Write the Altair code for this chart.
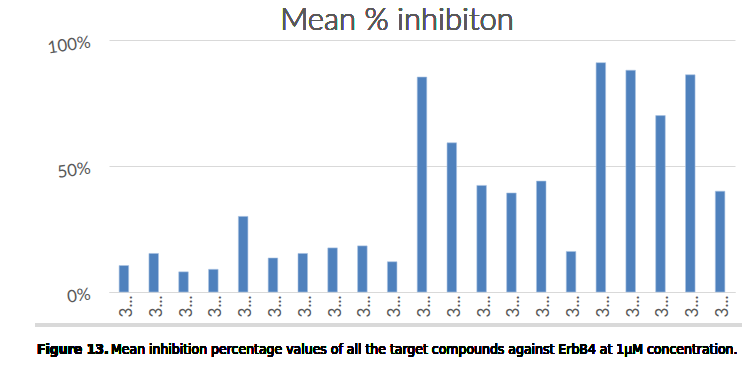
import altair as alt
import pandas as pd

compounds = [f"3{c}" for c in "abcdefghijklmnopqrstu"]
inhibition = [0.105, 0.153, 0.08, 0.09, 0.30, 0.135, 0.153, 0.175, 0.183, 0.12,
              0.853, 0.592, 0.423, 0.393, 0.44, 0.161, 0.91, 0.88, 0.70, 0.862, 0.40]
title_text = "Mean % inhibiton"
caption_bold = "Figure 13."
caption_rest = "Mean inhibition percentage values of all the target compounds against ErbB4 at 1μM concentration."

df = pd.DataFrame({"compound": compounds, "value": inhibition})
grey = "#595959"
chart_font = "Lato"
cap_font = "DejaVu Sans Condensed, Roboto, sans-serif"

bars = alt.Chart(df).mark_bar(color="#4F81BD", stroke="#a9c2e3", strokeWidth=0.6).encode(
    x=alt.X("compound:N", sort=None, title=None,
            scale=alt.Scale(paddingInner=0.68, paddingOuter=0.34),
            axis=alt.Axis(labelAngle=-90, labelExpr="'3...'", ticks=False,
                          domainColor="#d9d9d9", labelColor=grey, labelFontSize=17,
                          labelFont=chart_font, labelPadding=3, labelOffset=3)),
    y=alt.Y("value:Q", title=None,
            scale=alt.Scale(domain=[0, 1]),
            axis=alt.Axis(values=[0, 0.5, 1], format=".0%", domain=False, ticks=False,
                          gridColor="#d9d9d9", labelColor=grey, labelFontSize=17,
                          labelFont=chart_font, labelPadding=20, labelAngle=-8,
                          labelBaseline="top", labelOffset=-6)),
)

title = alt.Chart(df).mark_text(fontSize=31, font=chart_font, fontWeight=300,
                               color=grey, align="center",
                               baseline="middle", text=title_text).encode(
    x=alt.value(288), y=alt.value(-19))

band = alt.Chart(df).mark_rule(color="#d9d9d9", strokeWidth=4).encode(
    x=alt.value(-74), x2=alt.value(660), y=alt.value(285))

cap1 = alt.Chart(df).mark_text(fontSize=13.9, font=cap_font, fontWeight="bold",
                              color="black", align="left", baseline="middle",
                              text=caption_bold).encode(x=alt.value(-72), y=alt.value(310))
cap2 = alt.Chart(df).mark_text(fontSize=13.9, font=cap_font,
                              color="black", align="left", baseline="middle",
                              text=caption_rest).encode(x=alt.value(2), y=alt.value(310))

chart = alt.layer(bars, title, band, cap1, cap2).properties(
    width=626, height=252,
    autosize=alt.AutoSizeParams(type="none"),
    padding={"left": 101, "top": 32, "right": 7, "bottom": 65},
).configure_view(stroke=None)

chart.save("out.html", embed_options={"renderer": "svg", "actions": False})
